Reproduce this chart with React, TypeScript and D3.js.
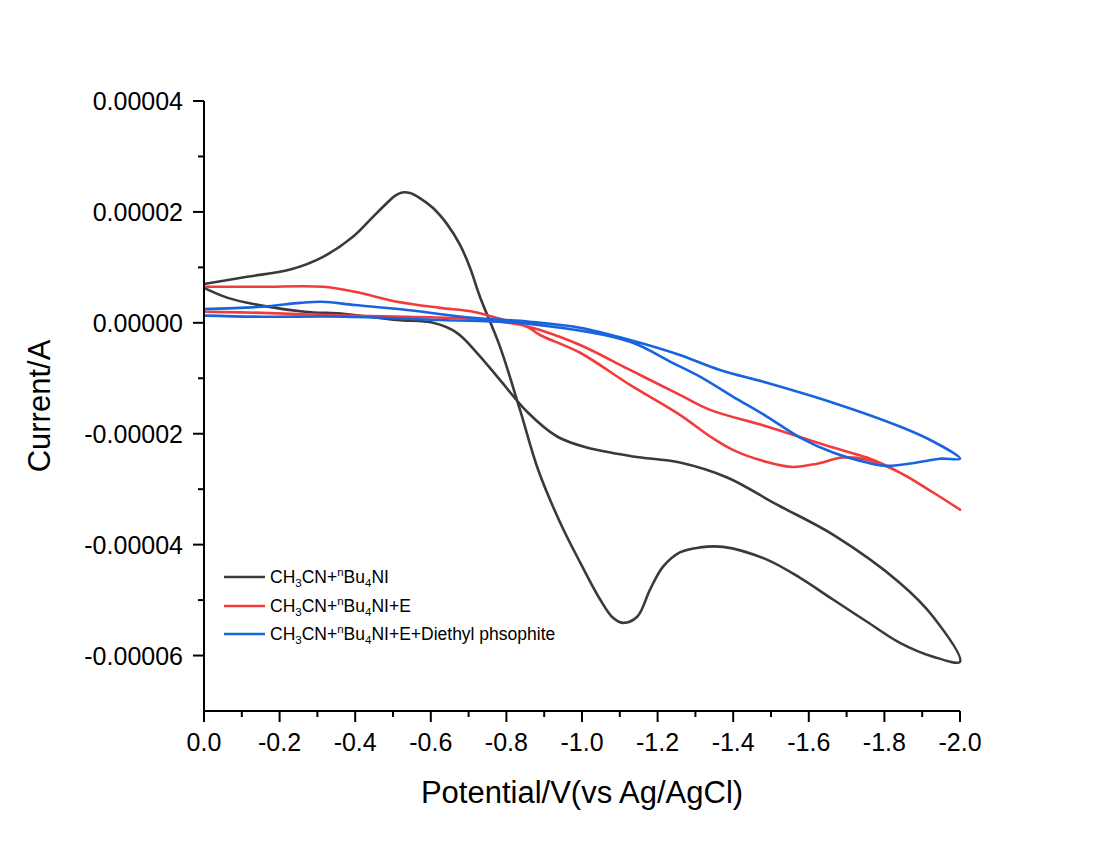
import React from 'react';
import * as d3 from 'd3';

// ---------- data (potential in V, current in µA) ----------
const xTickValues = [0, -0.2, -0.4, -0.6, -0.8, -1.0, -1.2, -1.4, -1.6, -1.8, -2.0];
const xMinorValues = [-0.1, -0.3, -0.5, -0.7, -0.9, -1.1, -1.3, -1.5, -1.7, -1.9];
const yTickValues = [0.00004, 0.00002, 0, -0.00002, -0.00004, -0.00006];
const yMinorValues = [0.00003, 0.00001, -0.00001, -0.00003, -0.00005];

const seriesNames = ['CH3CN+nBu4NI', 'CH3CN+nBu4NI+E', 'CH3CN+nBu4NI+E+Diethyl phsophite'];
const seriesColors = ['#3a3a3a', '#f23c3c', '#1864de'];

const blackScanA: [number, number][] = [
  [0.0, 7.0], [-0.114, 8.3], [-0.228, 9.6], [-0.315, 11.9], [-0.394, 15.5], [-0.447, 19.1],
  [-0.484, 21.6], [-0.505, 22.9], [-0.524, 23.5], [-0.545, 23.4], [-0.571, 22.5], [-0.606, 20.7],
  [-0.643, 17.8], [-0.677, 14.1], [-0.704, 9.9], [-0.73, 4.7],
  [-0.783, -4.3], [-0.836, -15.7], [-0.884, -26.5], [-0.942, -36.0], [-0.995, -43.2],
  [-1.048, -49.9], [-1.082, -53.2], [-1.108, -54.1], [-1.146, -53.0], [-1.18, -48.1],
  [-1.214, -44.0], [-1.259, -41.4], [-1.312, -40.5], [-1.373, -40.4], [-1.489, -42.7],
  [-1.577, -46.0], [-1.664, -49.9], [-1.754, -53.9], [-1.841, -57.7], [-1.929, -60.2], [-2.0, -61.1],
];
const blackScanB: [number, number][] = [
  [0.0, 6.3], [-0.063, 4.5], [-0.153, 3.1], [-0.267, 2.0], [-0.373, 1.6], [-0.511, 0.5],
  [-0.606, 0.0], [-0.669, -1.8], [-0.722, -5.4], [-0.783, -10.3], [-0.854, -16.0],
  [-0.934, -20.5], [-1.013, -22.5], [-1.135, -24.1], [-1.259, -25.2], [-1.384, -27.9],
  [-1.516, -32.8], [-1.664, -38.2], [-1.841, -46.9], [-1.929, -53.0], [-2.0, -61.1],
];

const redScanA: [number, number][] = [
  [0.0, 6.5], [-0.153, 6.5], [-0.315, 6.5], [-0.399, 5.6], [-0.511, 3.8], [-0.624, 2.7],
  [-0.712, 2.0], [-0.81, 0.2], [-0.889, -1.3], [-0.995, -4.0], [-1.127, -8.5], [-1.259, -13.0],
  [-1.339, -15.7], [-1.489, -18.7], [-1.664, -22.5], [-1.754, -24.3], [-1.841, -27.0],
  [-1.929, -30.6], [-2.0, -33.7],
];
const redScanB: [number, number][] = [
  [0.0, 2.0], [-0.153, 1.8], [-0.373, 1.3], [-0.537, 1.1], [-0.712, 0.7], [-0.783, 0.2],
  [-0.854, -0.7], [-0.889, -2.2], [-0.995, -5.4], [-1.127, -11.2], [-1.259, -16.6],
  [-1.339, -20.5], [-1.399, -22.9], [-1.489, -25.1], [-1.558, -26.0], [-1.622, -25.4],
  [-1.69, -24.3], [-1.754, -24.7], [-1.841, -27.0], [-1.929, -30.6], [-2.0, -33.7],
];

const blueScanA: [number, number][] = [
  [0.0, 2.5], [-0.153, 2.9], [-0.254, 3.6], [-0.312, 3.8], [-0.399, 3.2], [-0.537, 2.3],
  [-0.712, 0.9], [-0.862, 0.2], [-0.995, -0.9], [-1.127, -3.1], [-1.259, -5.8], [-1.365, -8.5],
  [-1.489, -10.8], [-1.664, -14.4], [-1.841, -18.7], [-1.929, -21.4], [-2.0, -24.5],
];
const blueScanB: [number, number][] = [
  [0.0, 1.3], [-0.153, 1.1], [-0.373, 1.1], [-0.624, 0.5], [-0.862, -0.2], [-1.127, -3.4],
  [-1.233, -7.0], [-1.312, -9.7], [-1.399, -13.3], [-1.489, -16.9], [-1.577, -20.7],
  [-1.664, -23.4], [-1.754, -25.2], [-1.807, -25.8], [-1.886, -25.2], [-1.947, -24.5], [-2.0, -24.5],
];

const seriesScans = [
  [blackScanA, blackScanB],
  [redScanA, redScanB],
  [blueScanA, blueScanB],
];

const FONT = '"Liberation Sans", Arial, sans-serif';

export default function App() {
  const x = d3.scaleLinear().domain([0, -2]).range([204, 960]);
  const y = d3.scaleLinear().domain([-0.00007, 0.00004]).range([711, 101]);

  const line = d3
    .line<[number, number]>()
    .x((d) => x(d[0]))
    .y((d) => y(d[1] * 1e-6))
    .curve(d3.curveCatmullRom.alpha(0.5));

  const paths = seriesScans.map(([a, b]) => {
    const loop = a.concat(b.slice(0, -1).reverse());
    return line(loop) || '';
  });

  const x0 = x(0);
  const xEnd = x(-2);
  const yTop = y(0.00004);
  const yBot = y(-0.00007);

  const legendY = [577, 606, 634];

  const renderLabel = (i: number) => {
    const sub = { fontSize: 11.5 };
    const parts: React.ReactNode[] = [
      <tspan key="a">CH</tspan>,
      <tspan key="b" dy={4} style={sub}>3</tspan>,
      <tspan key="c" dy={-4}>CN+</tspan>,
      <tspan key="d" dy={-7} style={sub}>n</tspan>,
      <tspan key="e" dy={7}>Bu</tspan>,
      <tspan key="f" dy={4} style={sub}>4</tspan>,
      <tspan key="g" dy={-4}>{i === 0 ? 'NI' : i === 1 ? 'NI+E' : 'NI+E+Diethyl phsophite'}</tspan>,
    ];
    return parts;
  };

  return (
    <svg
      width={1099}
      height={841}
      style={{ position: 'absolute', left: 0, top: 0, background: '#fff' }}
      fontFamily={FONT}
    >
      <rect x={0} y={0} width={1099} height={841} fill="#fff" />
      {/* curves */}
      {paths.map((p, i) => (
        <path key={i} d={p} fill="none" stroke={seriesColors[i]} strokeWidth={2.6} strokeLinejoin="round" />
      ))}
      {/* axes */}
      <line x1={x0} x2={x0} y1={yTop} y2={yBot + 1} stroke="#000" strokeWidth={2} />
      <line x1={x0 - 1} x2={xEnd} y1={yBot} y2={yBot} stroke="#000" strokeWidth={2} />
      {yTickValues.map((v) => (
        <g key={'yt' + v}>
          <line x1={x0 - 11} x2={x0} y1={y(v)} y2={y(v)} stroke="#000" strokeWidth={2} />
          <text x={x0 - 21} y={y(v) + 9} textAnchor="end" fontSize={25} fill="#000">
            {v.toFixed(5)}
          </text>
        </g>
      ))}
      {yMinorValues.map((v) => (
        <line key={'ym' + v} x1={x0 - 6} x2={x0} y1={y(v)} y2={y(v)} stroke="#000" strokeWidth={2} />
      ))}
      {xTickValues.map((v) => (
        <g key={'xt' + v}>
          <line x1={x(v)} x2={x(v)} y1={yBot} y2={yBot + 11} stroke="#000" strokeWidth={2} />
          <text x={x(v)} y={751} textAnchor="middle" fontSize={25} fill="#000">
            {v.toFixed(1)}
          </text>
        </g>
      ))}
      {xMinorValues.map((v) => (
        <line key={'xm' + v} x1={x(v)} x2={x(v)} y1={yBot} y2={yBot + 6} stroke="#000" strokeWidth={2} />
      ))}
      {/* axis titles */}
      <text x={582} y={803} textAnchor="middle" fontSize={31} fill="#000">
        Potential/V(vs Ag/AgCl)
      </text>
      <text transform={`translate(50,406) rotate(-90)`} textAnchor="middle" fontSize={31} fill="#000">
        Current/A
      </text>
      {/* legend */}
      {seriesNames.map((name, i) => (
        <g key={name}>
          <line x1={224} x2={265} y1={legendY[i]} y2={legendY[i]} stroke={seriesColors[i]} strokeWidth={2.6} />
          <text x={270} y={legendY[i] + 6} fontSize={17.5} fill="#000">
            {renderLabel(i)}
          </text>
        </g>
      ))}
    </svg>
  );
}
